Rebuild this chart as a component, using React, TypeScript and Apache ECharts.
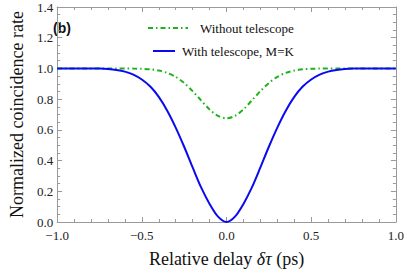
import React, { useEffect, useRef } from "react";
import * as echarts from "echarts";

const delays = [
  -1.0, -0.95, -0.9, -0.85, -0.8, -0.75, -0.7, -0.65, -0.6, -0.55, -0.5,
  -0.45, -0.4, -0.35, -0.3, -0.25, -0.2, -0.15, -0.1, -0.05, 0.0,
  0.05, 0.1, 0.15, 0.2, 0.25, 0.3, 0.35, 0.4, 0.45, 0.5,
  0.55, 0.6, 0.65, 0.7, 0.75, 0.8, 0.85, 0.9, 0.95, 1.0,
];

const withoutTelescope = [
  1, 1, 1, 1, 1, 1, 1, 1, 1, 0.999, 0.998,
  0.994, 0.986, 0.971, 0.945, 0.905, 0.852, 0.792, 0.733, 0.691, 0.675,
  0.691, 0.733, 0.792, 0.852, 0.905, 0.945, 0.971, 0.986, 0.994, 0.998,
  0.999, 1, 1, 1, 1, 1, 1, 1, 1, 1,
];

const withTelescope = [
  1, 1, 1, 1, 1, 0.999, 0.996, 0.99, 0.979, 0.96, 0.928,
  0.882, 0.815, 0.725, 0.615, 0.49, 0.355, 0.225, 0.118, 0.035, 0.0,
  0.035, 0.118, 0.225, 0.355, 0.49, 0.615, 0.725, 0.815, 0.882, 0.928,
  0.96, 0.979, 0.99, 0.996, 0.999, 1, 1, 1, 1, 1,
];

const seriesNames = ["Without telescope", "With telescope, M=K"];
const xTicks = { min: -1, max: 1, interval: 0.5 };
const yTicks = { min: 0, max: 1.4, interval: 0.2 };

const GREEN = "#1db31d";
const BLUE = "#0a0af0";
const AXIS = "#9a9a9a";
const SERIF = "'Liberation Serif', 'Times New Roman', serif";

export default function App() {
  const ref = useRef<HTMLDivElement>(null);

  useEffect(() => {
    if (!ref.current) return;
    const chart = echarts.init(ref.current, null, { renderer: "svg" });
    const fmt = (v: number) => (v < 0 ? "\u2212" + Math.abs(v).toFixed(1) : v.toFixed(1));
    const axisCommon = {
      axisLine: { show: true, onZero: false, lineStyle: { color: AXIS, width: 1 } },
      axisTick: { show: true, inside: true, length: 5, lineStyle: { color: AXIS } },
      minorTick: { show: true, length: 3, lineStyle: { color: AXIS } },
      splitLine: { show: false },
    };
    chart.setOption({
      animation: false,
      grid: { left: 48, right: 10, top: 7, bottom: 50, containLabel: false },
      xAxis: [
        {
          type: "value",
          ...xTicks,
          ...axisCommon,
          minorTick: { ...axisCommon.minorTick, splitNumber: 5 },
          axisLabel: { formatter: fmt, fontFamily: SERIF, fontSize: 13, color: "#222", margin: 7 },
          name: "{n|Relative delay }{i|δτ}{n| (ps)}",
          nameLocation: "middle",
          nameGap: 28,
          nameTextStyle: {
            rich: {
              n: { fontFamily: SERIF, fontSize: 18, color: "#111" },
              i: { fontFamily: SERIF, fontSize: 18, color: "#111", fontStyle: "italic" },
            },
          },
        },
        {
          type: "value",
          position: "top",
          ...xTicks,
          ...axisCommon,
          minorTick: { ...axisCommon.minorTick, splitNumber: 5 },
          axisLabel: { show: false },
        },
      ],
      yAxis: [
        {
          type: "value",
          ...yTicks,
          ...axisCommon,
          minorTick: { ...axisCommon.minorTick, splitNumber: 4 },
          axisLabel: { formatter: fmt, fontFamily: SERIF, fontSize: 13, color: "#222", margin: 4 },
          name: "Normalized coincidence rate",
          nameLocation: "middle",
          nameGap: 30,
          nameTextStyle: { fontFamily: SERIF, fontSize: 18, color: "#111" },
        },
        {
          type: "value",
          position: "right",
          ...yTicks,
          ...axisCommon,
          minorTick: { ...axisCommon.minorTick, splitNumber: 4 },
          axisLabel: { show: false },
        },
      ],
      series: [
        {
          name: seriesNames[0],
          type: "line",
          data: delays.map((d, i) => [d, withoutTelescope[i]]),
          showSymbol: false,
          smooth: 0.3,
          lineStyle: { color: GREEN, width: 2, type: [5, 3, 1.5, 3] },
        },
        {
          name: seriesNames[1],
          type: "line",
          data: delays.map((d, i) => [d, withTelescope[i]]),
          showSymbol: false,
          smooth: 0.3,
          lineStyle: { color: BLUE, width: 2 },
        },
      ],
      graphic: [
        {
          type: "text",
          left: 53,
          top: 21,
          style: { text: "(b)", fontFamily: "'Liberation Sans', Arial, sans-serif", fontWeight: "bold", fontSize: 14, fill: "#111" },
        },
        {
          type: "line",
          shape: { x1: 148, y1: 28, x2: 188, y2: 28 },
          style: { stroke: GREEN, lineWidth: 2, lineDash: [5, 3, 1.5, 3] },
        },
        {
          type: "text",
          x: 200,
          y: 28,
          style: { text: seriesNames[0], fontFamily: SERIF, fontSize: 13, fill: "#111", verticalAlign: "middle" },
        },
        {
          type: "line",
          shape: { x1: 153, y1: 51, x2: 175, y2: 51 },
          style: { stroke: BLUE, lineWidth: 2 },
        },
        {
          type: "text",
          x: 182,
          y: 51,
          style: { text: seriesNames[1], fontFamily: SERIF, fontSize: 13, fill: "#111", verticalAlign: "middle" },
        },
      ],
    });
    return () => chart.dispose();
  }, []);

  return (
    <div
      ref={ref}
      style={{ position: "fixed", left: 0, top: 0, width: 407, height: 273, background: "#fff" }}
    />
  );
}
